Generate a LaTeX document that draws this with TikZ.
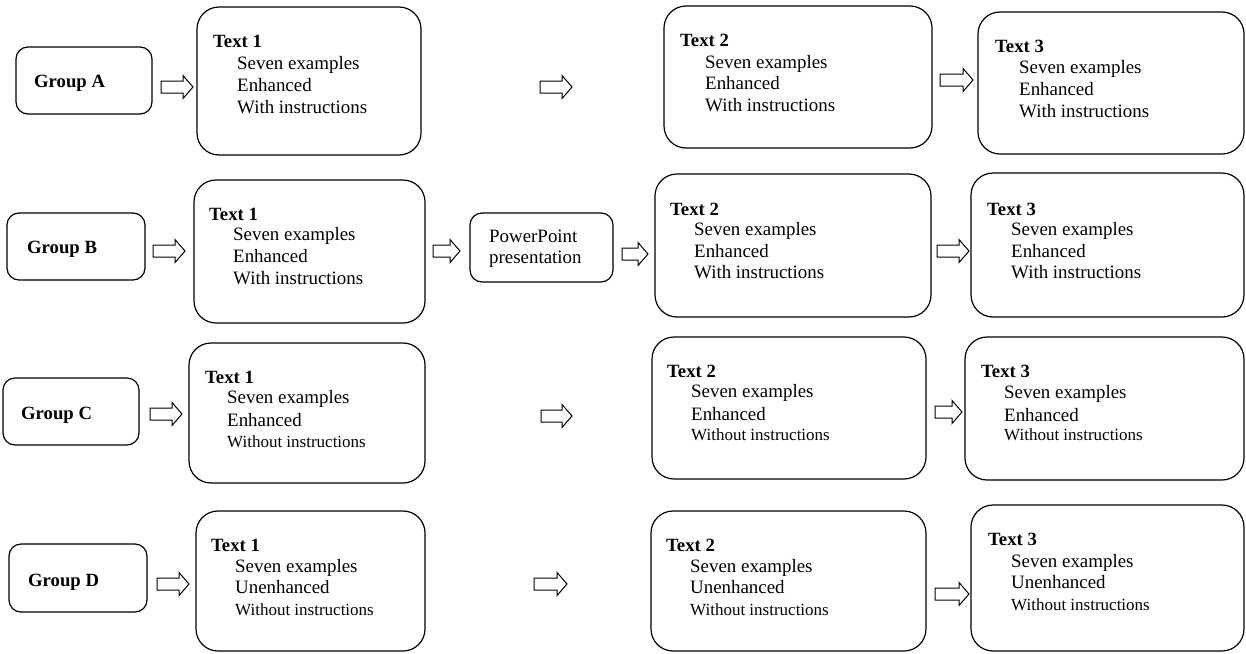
\documentclass[tikz,border=0pt]{standalone}
\usepackage{fontspec}
\setmainfont{Liberation Serif}
\tikzset{
  bigbox/.style={draw, line width=1.2pt, rounded corners=22pt, inner sep=0pt},
  smallbox/.style={draw, line width=1.2pt, rounded corners=12pt, inner sep=0pt},
  txt/.style={anchor=base west, inner sep=0pt, font=\fontsize{18.9}{22}\selectfont},
  ttl/.style={anchor=base west, inner sep=0pt, font=\fontsize{18.7}{22}\selectfont\bfseries},
  sml/.style={anchor=base west, inner sep=0pt, font=\fontsize{17}{20}\selectfont},
  blk/.style={draw, line width=1pt, fill=white, line join=miter},
}
\newcommand{\mybox}[6]{%
  \node[#1, minimum width={(#5-#3)*1pt}, minimum height={(#6-#4)*1pt}] (#2) at ({(#3+#5)/2},{(#4+#6)/2}) {};}
\newcommand{\blockarr}[4]{%
  \coordinate (#1) at (#2,#4);
  \draw[blk] (#1) ++(0,-6) -- ({#3-10},{#4-6}) -- ({#3-10},{#4-11.5}) -- ({#3},{#4})
    -- ({#3-10},{#4+11.5}) -- ({#3-10},{#4+6}) -- ({#2},{#4+6}) -- cycle;}
\begin{document}
\begin{tikzpicture}[x=1pt,y=-1pt]
\useasboundingbox (0,0) rectangle (1246,653);

% ---------- Row A ----------
\mybox{smallbox}{ga}{16}{47}{152}{114}
\node[ttl] (gal) at (34,87) {Group A};
\blockarr{aa1}{161}{193}{87}
\mybox{bigbox}{a1}{197}{7}{421}{155}
\node[ttl] (a1t) at (213,47) {Text 1};
\node[txt] (a1l1) at (237,69) {Seven examples};
\node[txt] (a1l2) at (237,91) {Enhanced};
\node[txt] (a1l3) at (237,113) {With instructions};
\blockarr{aa2}{540}{572}{87}
\mybox{bigbox}{a2}{664}{6}{932}{148}
\node[ttl] (a2t) at (680,46) {Text 2};
\node[txt] (a2l1) at (705,68) {Seven examples};
\node[txt] (a2l2) at (705,89) {Enhanced};
\node[txt] (a2l3) at (705,111) {With instructions};
\blockarr{aa3}{940}{973}{80}
\mybox{bigbox}{a3}{978}{12}{1244}{154}
\node[ttl] (a3t) at (995,52) {Text 3};
\node[txt] (a3l1) at (1019,73) {Seven examples};
\node[txt] (a3l2) at (1019,95) {Enhanced};
\node[txt] (a3l3) at (1019,117) {With instructions};

% ---------- Row B ----------
\mybox{smallbox}{gb}{7}{213}{145}{280}
\node[ttl] (gbl) at (27,253) {Group B};
\blockarr{ba1}{153}{185}{251}
\mybox{bigbox}{b1}{194}{180}{425}{323}
\node[ttl] (b1t) at (209,220) {Text 1};
\node[txt] (b1l1) at (233,240) {Seven examples};
\node[txt] (b1l2) at (233,262) {Enhanced};
\node[txt] (b1l3) at (233,284) {With instructions};
\blockarr{ba2}{433}{460}{251}
\mybox{smallbox}{pp}{470}{213}{613}{282}
\node[txt] (ppl1) at (489,242) {PowerPoint};
\node[txt] (ppl2) at (489,263) {presentation};
\blockarr{ba3}{622}{648}{254}
\mybox{bigbox}{b2}{655}{174}{931}{317}
\node[ttl] (b2t) at (670,215) {Text 2};
\node[txt] (b2l1) at (694,235) {Seven examples};
\node[txt] (b2l2) at (694,257) {Enhanced};
\node[txt] (b2l3) at (694,278) {With instructions};
\blockarr{ba4}{937}{969}{251}
\mybox{bigbox}{b3}{971}{173}{1244}{317}
\node[ttl] (b3t) at (987,215) {Text 3};
\node[txt] (b3l1) at (1011,235) {Seven examples};
\node[txt] (b3l2) at (1011,257) {Enhanced};
\node[txt] (b3l3) at (1011,278) {With instructions};

% ---------- Row C ----------
\mybox{smallbox}{gc}{3}{378}{139}{445}
\node[ttl] (gcl) at (21,419) {Group C};
\blockarr{ca1}{150}{182}{414}
\mybox{bigbox}{c1}{189}{343}{425}{483}
\node[ttl] (c1t) at (205,383) {Text 1};
\node[txt] (c1l1) at (227,403) {Seven examples};
\node[txt] (c1l2) at (227,426) {Enhanced};
\node[sml] (c1l3) at (227,447) {Without instructions};
\blockarr{ca2}{541}{572}{416}
\mybox{bigbox}{c2}{652}{337}{926}{479}
\node[ttl] (c2t) at (667,377) {Text 2};
\node[txt] (c2l1) at (691,397) {Seven examples};
\node[txt] (c2l2) at (691,420) {Enhanced};
\node[sml] (c2l3) at (691,440) {Without instructions};
\blockarr{ca3}{935}{962}{412}
\mybox{bigbox}{c3}{965}{337}{1244}{480}
\node[ttl] (c3t) at (981,377) {Text 3};
\node[txt] (c3l1) at (1004,398) {Seven examples};
\node[txt] (c3l2) at (1004,421) {Enhanced};
\node[sml] (c3l3) at (1004,440) {Without instructions};

% ---------- Row D ----------
\mybox{smallbox}{gd}{9}{544}{147}{612}
\node[ttl] (gdl) at (28,586) {Group D};
\blockarr{da1}{157}{189}{584}
\mybox{bigbox}{d1}{196}{511}{425}{651}
\node[ttl] (d1t) at (211,551) {Text 1};
\node[txt] (d1l1) at (235,572) {Seven examples};
\node[txt] (d1l2) at (235,593) {Unenhanced};
\node[sml] (d1l3) at (235,615) {Without instructions};
\blockarr{da2}{534}{567}{584}
\mybox{bigbox}{d2}{651}{511}{926}{651}
\node[ttl] (d2t) at (666,551) {Text 2};
\node[txt] (d2l1) at (690,572) {Seven examples};
\node[txt] (d2l2) at (690,593) {Unenhanced};
\node[sml] (d2l3) at (690,615) {Without instructions};
\blockarr{da3}{935}{969}{594}
\mybox{bigbox}{d3}{971}{505}{1244}{651}
\node[ttl] (d3t) at (988,545) {Text 3};
\node[txt] (d3l1) at (1011,567) {Seven examples};
\node[txt] (d3l2) at (1011,588) {Unenhanced};
\node[sml] (d3l3) at (1011,610) {Without instructions};
\end{tikzpicture}
\end{document}
